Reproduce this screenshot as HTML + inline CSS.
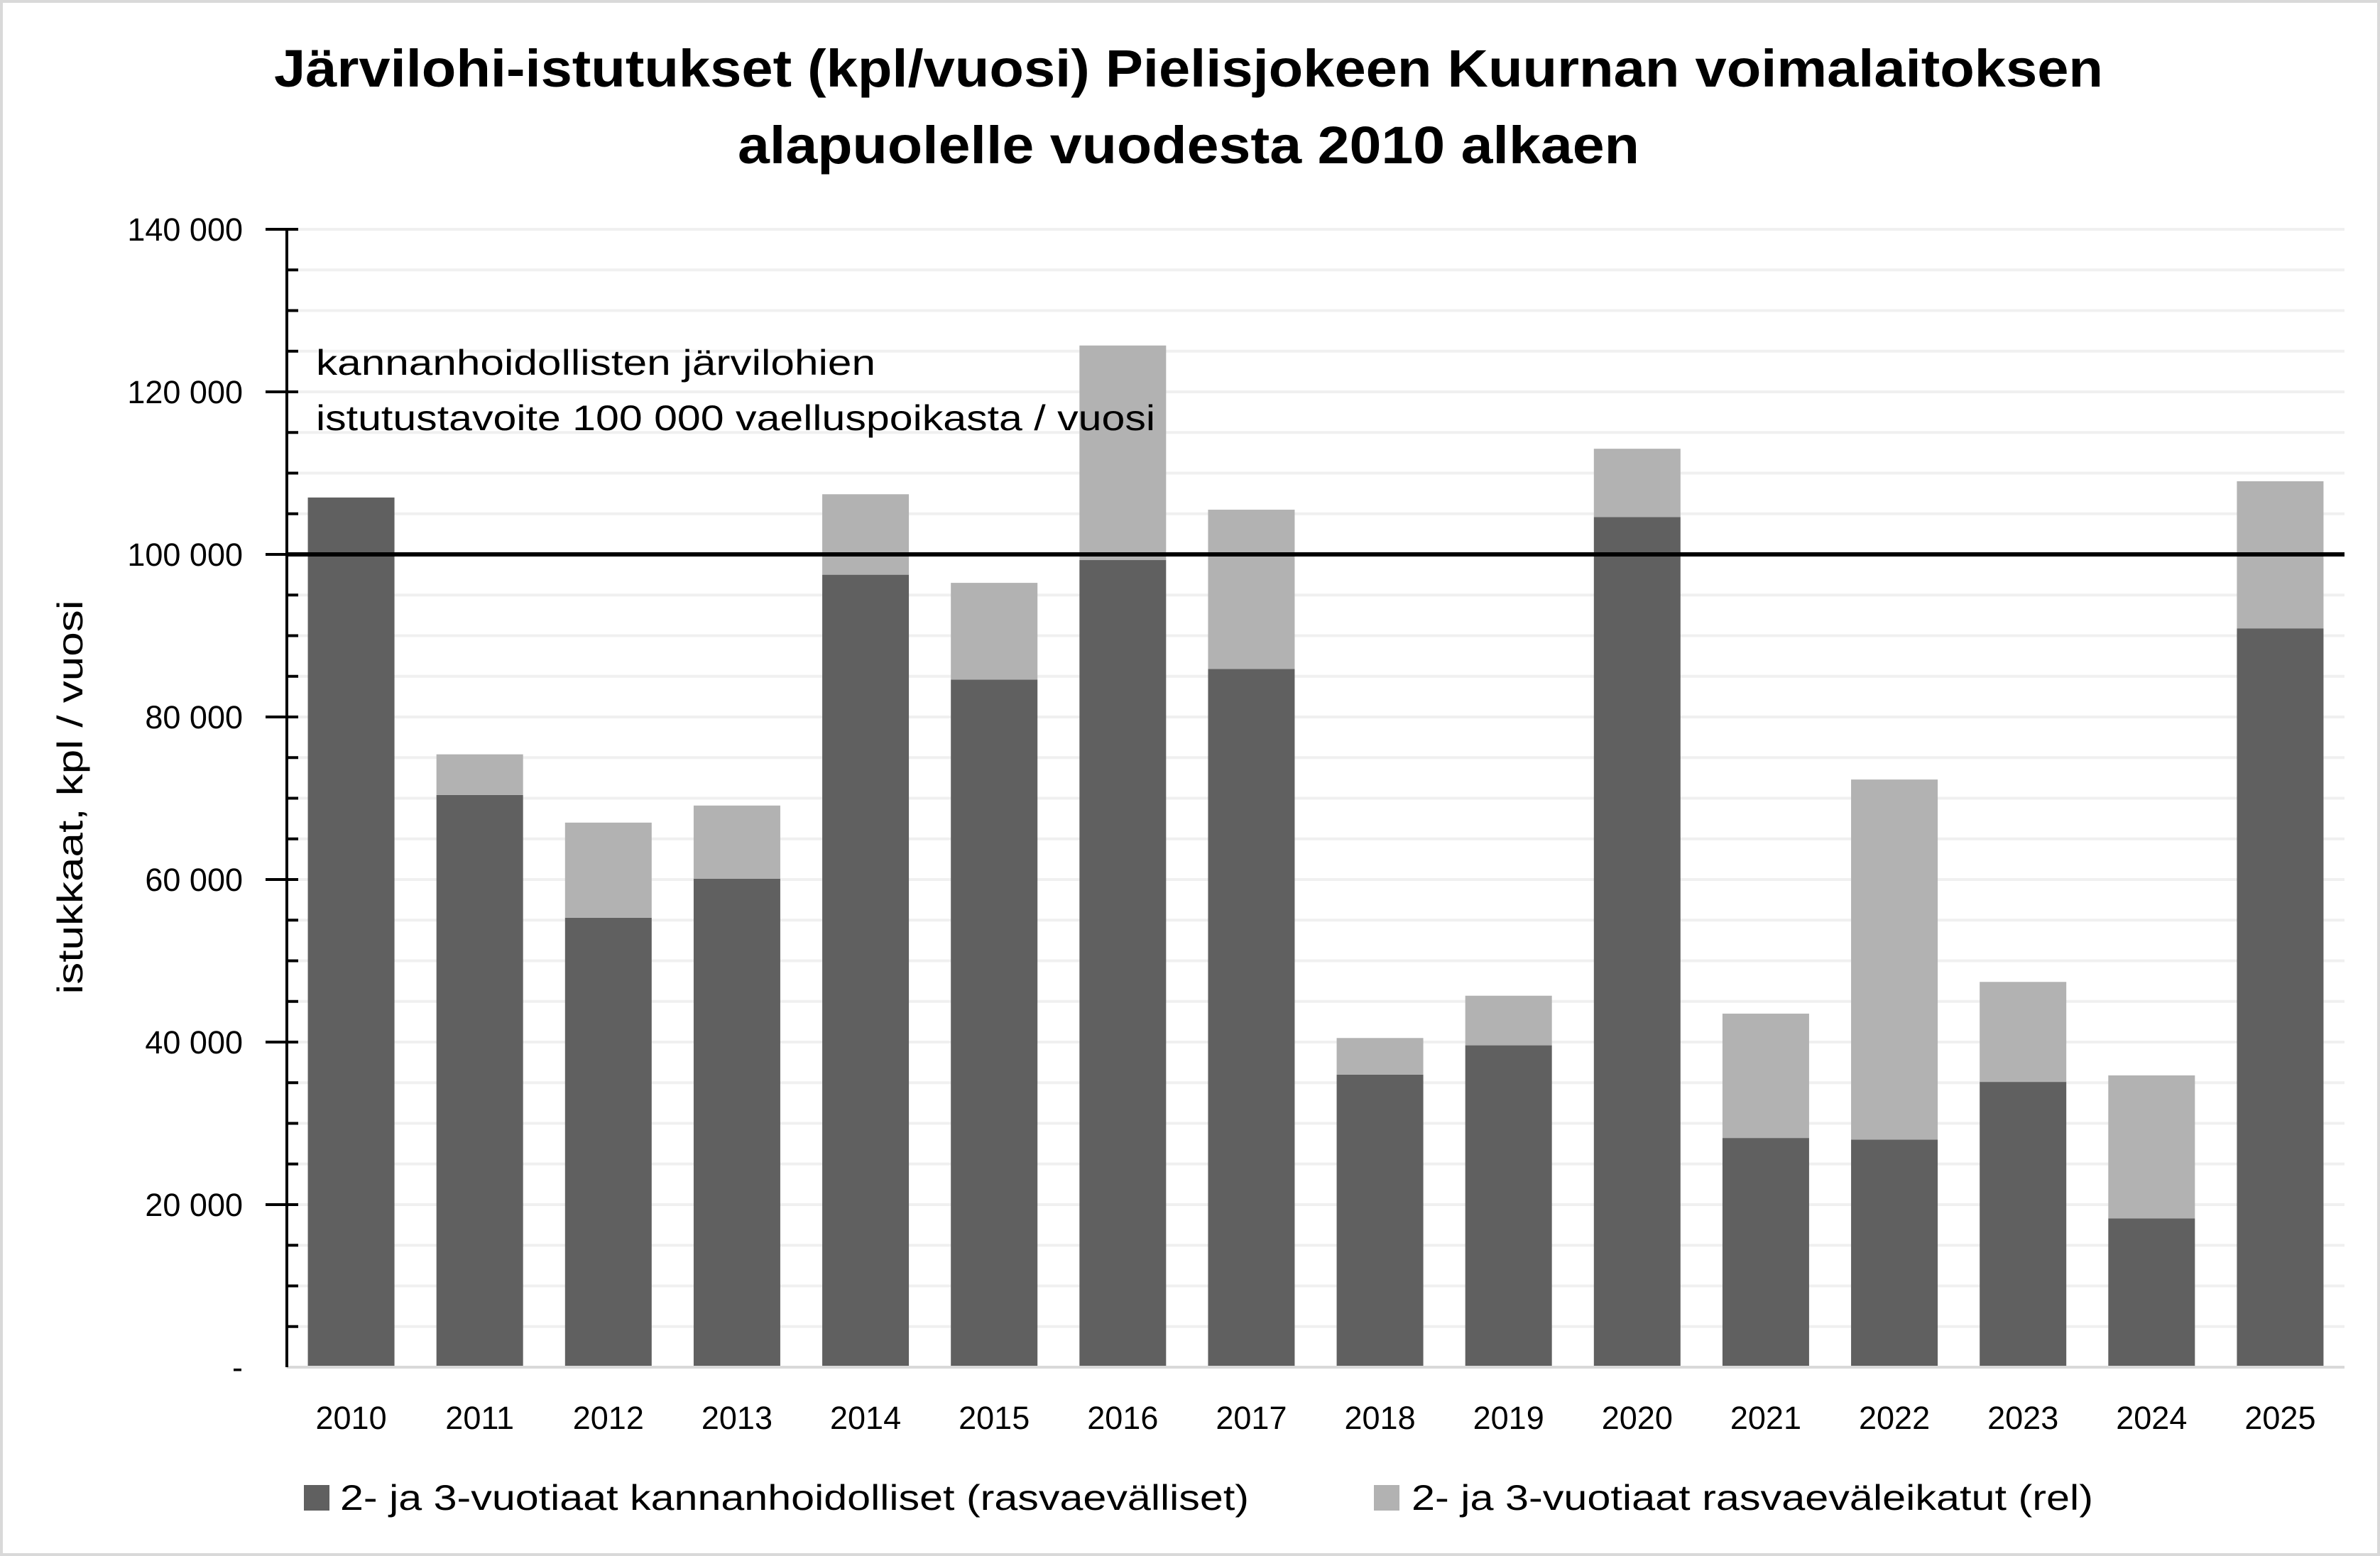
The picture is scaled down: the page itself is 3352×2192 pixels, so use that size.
<!DOCTYPE html>
<html><head><meta charset="utf-8"><style>
html,body{margin:0;padding:0;background:#fff}
svg{display:block}
text{font-family:"Liberation Sans",sans-serif;fill:#000}
</style></head><body>
<svg id="chart" width="3352" height="2192" viewBox="0 0 3352 2192" xmlns="http://www.w3.org/2000/svg">
<rect x="2" y="2" width="3348" height="2188" fill="#fff" stroke="#d9d9d9" stroke-width="4"/>
<text x="1674" y="122" text-anchor="middle" font-size="74" font-weight="bold" textLength="2576" lengthAdjust="spacingAndGlyphs">Järvilohi-istutukset (kpl/vuosi) Pielisjokeen Kuurnan voimalaitoksen</text>
<text x="1674" y="230" text-anchor="middle" font-size="74" font-weight="bold" textLength="1270" lengthAdjust="spacingAndGlyphs">alapuolelle vuodesta 2010 alkaen</text>
<g id="grid"></g>
<g id="bars"></g>
<g id="axes"></g>
<text transform="translate(116,1123) rotate(-90)" text-anchor="middle" font-size="50" textLength="555" lengthAdjust="spacingAndGlyphs">istukkaat, kpl / vuosi</text>
<text x="445" y="528" font-size="50" textLength="788" lengthAdjust="spacingAndGlyphs">kannanhoidollisten järvilohien</text>
<text x="445" y="606" font-size="50" textLength="1182" lengthAdjust="spacingAndGlyphs">istutustavoite 100 000 vaelluspoikasta / vuosi</text>
<g>
<rect x="428" y="2092" width="36" height="36" fill="#606060"/>
<text x="479" y="2127" font-size="50" textLength="1280" lengthAdjust="spacingAndGlyphs">2- ja 3-vuotiaat kannanhoidolliset (rasvaevälliset)</text>
<rect x="1935" y="2092" width="36" height="36" fill="#b2b2b2"/>
<text x="1988" y="2127" font-size="50" textLength="960" lengthAdjust="spacingAndGlyphs">2- ja 3-vuotiaat rasvaeväleikatut (rel)</text>
</g>
</svg>
<script>
const categories = ["2010","2011","2012","2013","2014","2015","2016","2017","2018","2019","2020","2021","2022","2023","2024","2025"];
const kannanhoidolliset = [107000,70400,55300,60100,97500,84600,99300,85900,36000,39600,104600,28200,28000,35100,18300,90900];
const rasvaeveleikatut = [0,5000,11700,9000,9900,11900,26400,19600,4500,6100,8400,15300,44300,12300,17600,18100];
const yTicks = [0,20000,40000,60000,80000,100000,120000,140000];
const yTickLabels = ["-","20 000","40 000","60 000","80 000","100 000","120 000","140 000"];
const target = [100000];

const NS = "http://www.w3.org/2000/svg";
const X0 = 404, X1 = 3302, Y0 = 1926, Y1 = 323, YMAX = 140000;
const band = (X1 - X0) / categories.length, barW = 122;
function y(v){ return Y0 - (v / YMAX) * (Y0 - Y1); }
function xc(i){ return X0 + band * (i + 0.5); }
function mk(tag, attrs, parent){ const e = document.createElementNS(NS, tag); for (const k in attrs) e.setAttribute(k, attrs[k]); parent.appendChild(e); return e; }

const grid = document.getElementById('grid');
const axes = document.getElementById('axes');
const bars = document.getElementById('bars');
for (let v = 5000; v <= YMAX; v += 5000) {
  const l = mk('line', {x1: X0, x2: X1, y1: y(v), y2: y(v), stroke: '#f0f0f0', 'stroke-width': 4}, grid);
  
  
  const t = mk('line', {x1: X0 - (v % 20000 === 0 ? 30 : 0), x2: X0 + 16, y1: y(v), y2: y(v), stroke: '#000', 'stroke-width': 4}, axes);
  
  
}
categories.forEach((c, i) => {
  const d = kannanhoidolliset[i], r = rasvaeveleikatut[i];
  const b1 = mk('rect', {x: xc(i) - barW / 2, y: y(d), width: barW, height: Y0 - y(d), fill: '#606060'}, bars);
  
  
  if (r > 0) {
    const b2 = mk('rect', {x: xc(i) - barW / 2, y: y(d + r), width: barW, height: y(d) - y(d + r), fill: '#b2b2b2'}, bars);
    
    
  }
  const t = mk('text', {x: xc(i), y: 2013, 'text-anchor': 'middle', 'font-size': 45}, axes);
  t.textContent = c;
  
  
});
const tl = mk('line', {x1: X0, x2: X1, y1: y(target[0]), y2: y(target[0]), stroke: '#000', 'stroke-width': 6}, bars);


const base = mk('line', {x1: X0, x2: X1, y1: Y0, y2: Y0, stroke: '#d9d9d9', 'stroke-width': 4}, axes);


const ya = mk('line', {x1: X0, x2: X0, y1: Y1, y2: Y0, stroke: '#000', 'stroke-width': 4}, axes);


yTicks.forEach((v, i) => {
  const t = mk('text', {x: 342, y: y(v) + 16, 'text-anchor': 'end', 'font-size': 45}, axes);
  t.textContent = yTickLabels[i];
  
  
});
</script>
</body></html>
